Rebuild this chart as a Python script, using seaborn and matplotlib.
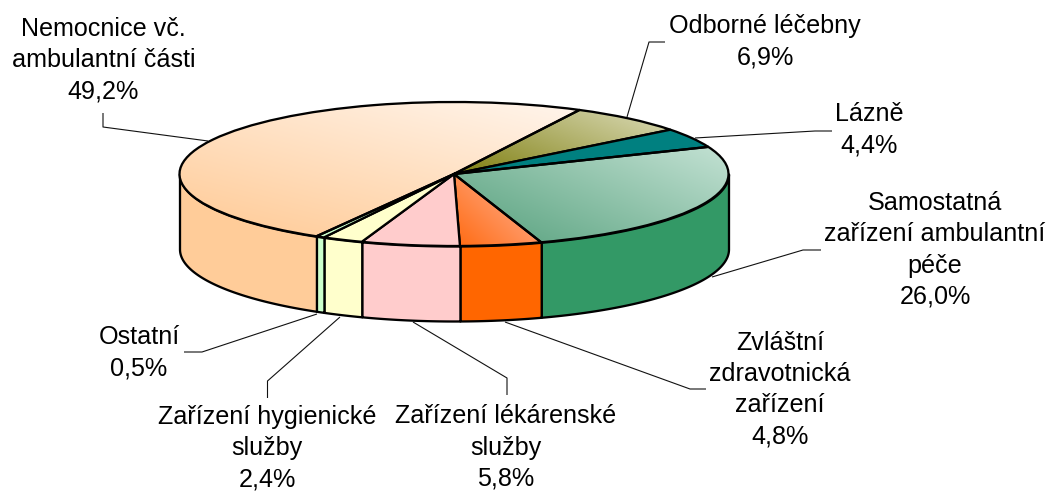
import numpy as np
import matplotlib
matplotlib.use("Agg")
import matplotlib.pyplot as plt
from matplotlib.colors import to_rgb
import seaborn as sns

categories = ["Odborné léčebny", "Lázně", "Samostatná\nzařízení ambulantní\npéče",
              "Zvláštní\nzdravotnická\nzařízení", "Zařízení lékárenské\nslužby",
              "Zařízení hygienické\nslužby", "Ostatní", "Nemocnice vč.\nambulantní části"]
values = [6.9, 4.4, 26.0, 4.8, 5.8, 2.4, 0.5, 49.2]
side_colors = ["#808000", "#008080", "#339966", "#FF6600", "#FFCCCC", "#FFFFCC", "#CCFFCC", "#FFCC99"]
grad_low = ["#7F7F10", None, "#55A07C", "#FF6A10", None, None, None, "#FFC993"]
grad_high = ["#DDDDBB", None, "#C4E2D4", "#FFBAA4", None, None, None, "#FFF6EE"]
grad_dir = [(0.4, 1.0), None, (0.45, 1.0), (1.0, 1.0), None, None, None, (0.25, 1.0)]

sns.set_theme(style="white")
plt.rcParams["font.family"] = ["Liberation Sans", "DejaVu Sans"]

W, H = 1050, 492
CX, CY, RX, RY, DEPTH = 454.0, 174.0, 274.5, 72.0, 75.0
START = 62.8
EDGE = 1.65
squash = RY / RX

fig = plt.figure(figsize=(W / 100, H / 100), dpi=100)
ax = fig.add_axes([0, 0, 1, 1])
palette = sns.color_palette(side_colors)

# y data units of the pie axes are stretched so the circle appears as an ellipse
def py(pixel_y):
    return (H - pixel_y) / squash

wedges, _ = ax.pie(values, colors=palette, startangle=START, counterclock=False,
                   center=(CX, py(CY)), radius=RX, frame=False,
                   wedgeprops=dict(edgecolor="black", linewidth=EDGE, zorder=3))
ax.set_box_aspect(None)
ax.set_aspect("auto")

# side wall
angle = START
for v, col in zip(values, palette):
    a0, a1 = angle, angle - v * 3.6
    angle = a1
    hi = min(a0, 0)
    lo = max(a1, -180)
    if hi > lo:
        t = np.radians(np.linspace(lo, hi, 80))
        x = CX + RX * np.cos(t)
        top = py(CY) + RX * np.sin(t)
        ax.fill_between(x, top, top - DEPTH / squash, facecolor=col,
                        edgecolor="black", linewidth=EDGE, zorder=2)

# top-face gradients
for w, lo, hi, d in zip(wedges, grad_low, grad_high, grad_dir):
    if lo is None:
        continue
    pts = w.get_patch_transform().transform(w.get_path().vertices)
    x0, x1, y0, y1 = pts[:, 0].min(), pts[:, 0].max(), pts[:, 1].min(), pts[:, 1].max()
    xs, ys = np.meshgrid(np.linspace(x0, x1, 300), np.linspace(y0, y1, 200))
    proj = d[0] * xs + d[1] * ys * squash
    tt = (proj - proj.min()) / (proj.max() - proj.min())
    c0, c1 = np.array(to_rgb(lo)), np.array(to_rgb(hi))
    img = c0[None, None, :] + (c1 - c0)[None, None, :] * tt[:, :, None]
    im = ax.imshow(img, extent=(x0, x1, y0, y1), origin="lower", aspect="auto",
                   zorder=2.5, interpolation="bilinear")
    im.set_clip_path(w)
    w.set_facecolor("none")

ax.set_xlim(0, W)
ax.set_ylim(0, H / squash)
ax.set_axis_off()

# labels and leader lines in pixel coordinates
ov = fig.add_axes([0, 0, 1, 1], facecolor="none")
ov.set_xlim(0, W)
ov.set_ylim(H, 0)
ov.set_axis_off()

label_pos = [(765, 42), (869, 130), (935, 250), (780, 389.5),
             (506, 447.5), (267, 448.5), (139, 352.5), (103.5, 60)]
leaders = [
    [(665, 42), (649, 42), (627, 117)],
    [(832, 131), (815, 131), (695, 138)],
    [(821, 250), (803, 250), (712, 277)],
    [(706, 389), (690, 389), (505, 322)],
    [(507, 395), (507, 378), (413, 322)],
    [(267.5, 398), (267.5, 381), (340, 317)],
    [(184, 352), (202, 352), (317, 314)],
    [(103, 113), (103, 127), (208, 141)],
]
for cat, v, (x, y), pts in zip(categories, values, label_pos, leaders):
    txt = cat + "\n" + f"{v:.1f}%".replace(".", ",")
    ov.text(x, y, txt, ha="center", va="center", fontsize=18.1, color="black",
            linespacing=1.385, clip_on=False)
    p = np.array(pts)
    ov.plot(p[:, 0], p[:, 1], color="#111111", lw=0.8, solid_capstyle="butt")

fig.savefig("out.png", dpi=100, facecolor="white")
